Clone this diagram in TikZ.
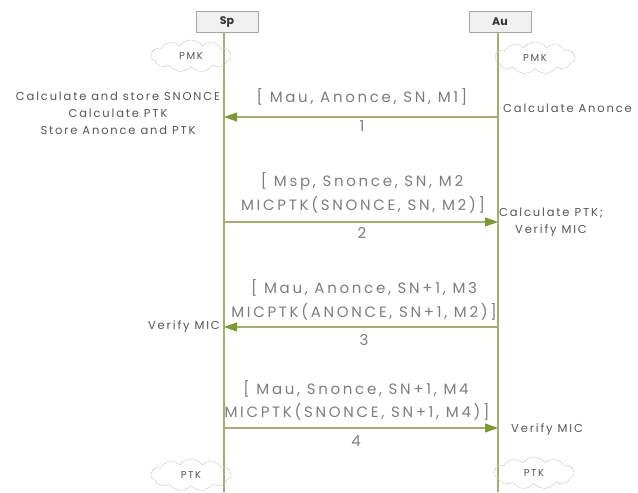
\documentclass[tikz,border=0pt]{standalone}
\usepackage{fontspec}
\setmainfont{Poppins}
\newfontfamily\lblfont[LetterSpace=18]{Poppins}
\newfontfamily\sidefont[LetterSpace=16]{Poppins}
\usetikzlibrary{shapes.symbols,arrows.meta}
\definecolor{lifeg}{RGB}{160,175,110}
\definecolor{arrg}{RGB}{120,155,50}
\definecolor{txtg}{RGB}{85,85,85}
\definecolor{msgg}{RGB}{125,125,125}
\tikzset{
  actor/.style={draw=gray!70, fill=gray!12, minimum width=62pt, minimum height=21pt, font=\fontsize{11}{11}\selectfont\bfseries, text=black!80},
  keycloud/.style={cloud, cloud puffs=11, cloud puff arc=110, cloud ignores aspect, draw=gray!45, minimum width=80pt, minimum height=32pt, inner sep=0pt, font=\sidefont\fontsize{10}{10}\selectfont, text=txtg},
  life/.style={draw=lifeg, line width=1.3pt},
  msg/.style={draw=lifeg, line width=1.2pt, -{Triangle[length=13pt,width=9pt,color=arrg]}},
  lbl/.style={font=\lblfont\fontsize{15}{15}\selectfont, text=msgg, inner sep=0pt},
  side/.style={font=\sidefont\fontsize{11.5}{17}\selectfont, text=txtg, align=center, inner sep=0pt},
}
\begin{document}
\begin{tikzpicture}[x=1pt,y=-1pt]
\useasboundingbox (0,0) rectangle (638,493);
\node[actor] (sp) at (227,22) {Sp};
\node[actor] (au) at (500,22) {Au};
\coordinate (spb) at (224,492);
\coordinate (aub) at (498,492);
\draw[life] (224,32.5) -- (spb);
\draw[life] (498,32.5) -- (aub);
\node[keycloud] (pmk1) at (191,56) {PMK};
\node[keycloud] (pmk2) at (535,58) {PMK};
\node[keycloud] (ptk1) at (191,475) {PTK};
\node[keycloud] (ptk2) at (534,473) {PTK};
% message 1
\coordinate (a1) at (498,117);
\coordinate (b1) at (224,117);
\draw[msg] (a1) -- (b1);
\node[lbl] (m1) at (362,97) {[ Mau, Anonce, SN, M1]};
\node[lbl] (n1) at (362,126) {1};
\node[side] (s1) at (118,113) {Calculate and store SNONCE\\Calculate PTK\\Store Anonce and PTK};
\node[side, anchor=west] (s1r) at (503,108) {Calculate Anonce};
% message 2
\coordinate (a2) at (224,222);
\coordinate (b2) at (498,222);
\draw[msg] (a2) -- (b2);
\node[lbl] (m2a) at (362,181) {[ Msp, Snonce, SN, M2};
\node[lbl] (m2b) at (363,205) {MICPTK(SNONCE, SN, M2)]};
\node[lbl] (n2) at (362,233) {2};
\node[side] (s2) at (551,222) {Calculate PTK;\\Verify MIC};
% message 3
\coordinate (a3) at (498,327);
\coordinate (b3) at (224,327);
\draw[msg] (a3) -- (b3);
\node[lbl] (m3a) at (364,288) {[ Mau, Anonce, SN+1, M3};
\node[lbl] (m3b) at (364,312) {MICPTK(ANONCE, SN+1, M2)]};
\node[lbl] (n3) at (364,340) {3};
\node[side, anchor=east] (s3) at (220,327) {Verify MIC};
% message 4
\coordinate (a4) at (224,428);
\coordinate (b4) at (498,428);
\draw[msg] (a4) -- (b4);
\node[lbl] (m4a) at (356,389) {[ Mau, Snonce, SN+1, M4};
\node[lbl] (m4b) at (357,412) {MICPTK(SNONCE, SN+1, M4)]};
\node[lbl] (n4) at (356,441) {4};
\node[side, anchor=west] (s4) at (511,430) {Verify MIC};
\end{tikzpicture}
\end{document}
